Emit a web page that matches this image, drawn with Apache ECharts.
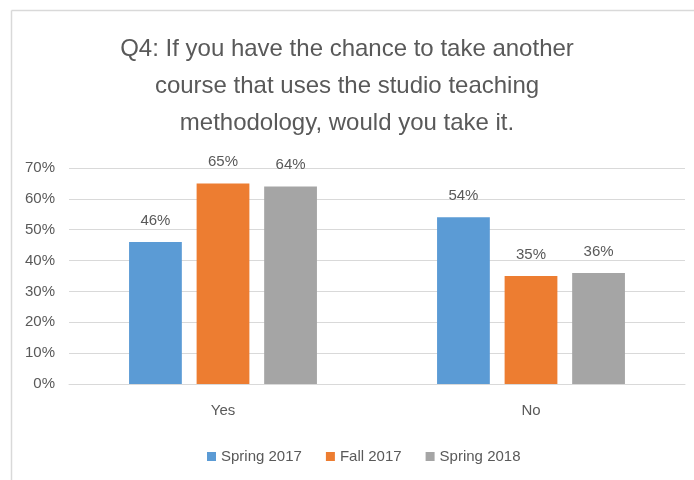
<!DOCTYPE html>
<html><head><meta charset="utf-8">
<script src="https://cdn.jsdelivr.net/npm/echarts@6/dist/echarts.min.js"></script>
<style>html,body{margin:0;padding:0;background:#fff}#c{width:694px;height:480px}</style>
</head><body><div id="c"></div>
<script>
var categories = ['Yes', 'No'];
var seriesNames = ['Spring 2017', 'Fall 2017', 'Spring 2018'];
var spring2017 = [46, 54];
var fall2017 = [65, 35];
var spring2018 = [64, 36];
var colors = ['#5B9BD5', '#ED7D31', '#A5A5A5'];
var titleText = 'Q4: If you have the chance to take another\ncourse that uses the studio teaching\nmethodology, would you take it.';
var FONT = '"Liberation Sans", sans-serif';
var chart = echarts.init(document.getElementById('c'));
var dataSets = [spring2017, fall2017, spring2018];
chart.setOption({
  animation: false,
  textStyle: {fontFamily: FONT},
  title: {text: titleText, left: 'center', top: 26,
    textStyle: {fontFamily: FONT, fontSize: 24, fontWeight: 'normal', color: '#595959', lineHeight: 37}},
  legend: {top: 444, left: 202, itemWidth: 9, itemHeight: 9, itemGap: 24,
    icon: 'rect', textStyle: {fontFamily: FONT, fontSize: 15, color: '#595959'}, data: seriesNames},
  grid: {left: 69, right: 9, top: 168, bottom: 96, containLabel: false},
  xAxis: {type: 'category', data: categories,
    axisLine: {lineStyle: {color: '#D9D9D9'}}, axisTick: {show: false},
    axisLabel: {fontFamily: FONT, fontSize: 15, color: '#595959', margin: 19}},
  yAxis: {type: 'value', min: 0, max: 70, interval: 10,
    axisLabel: {formatter: '{value}%', fontFamily: FONT, fontSize: 15, color: '#595959', margin: 14},
    axisLine: {show: false}, axisTick: {show: false},
    splitLine: {lineStyle: {color: '#D9D9D9'}}},
  series: dataSets.map(function (d, i) {
    return {name: seriesNames[i], type: 'bar', data: d, barGap: '28%', barCategoryGap: '39%',
      itemStyle: {color: colors[i]},
      label: {show: true, position: 'top', formatter: '{c}%', distance: 14,
        fontFamily: FONT, fontSize: 15, color: '#595959'}};
  }),
  graphic: [
    {type: 'line', shape: {x1: 11.5, y1: 10.5, x2: 694, y2: 10.5}, style: {stroke: '#D9D9D9', lineWidth: 1.5}},
    {type: 'line', shape: {x1: 11.5, y1: 10.5, x2: 11.5, y2: 480}, style: {stroke: '#D9D9D9', lineWidth: 1.5}}
  ]
});
</script></body></html>
